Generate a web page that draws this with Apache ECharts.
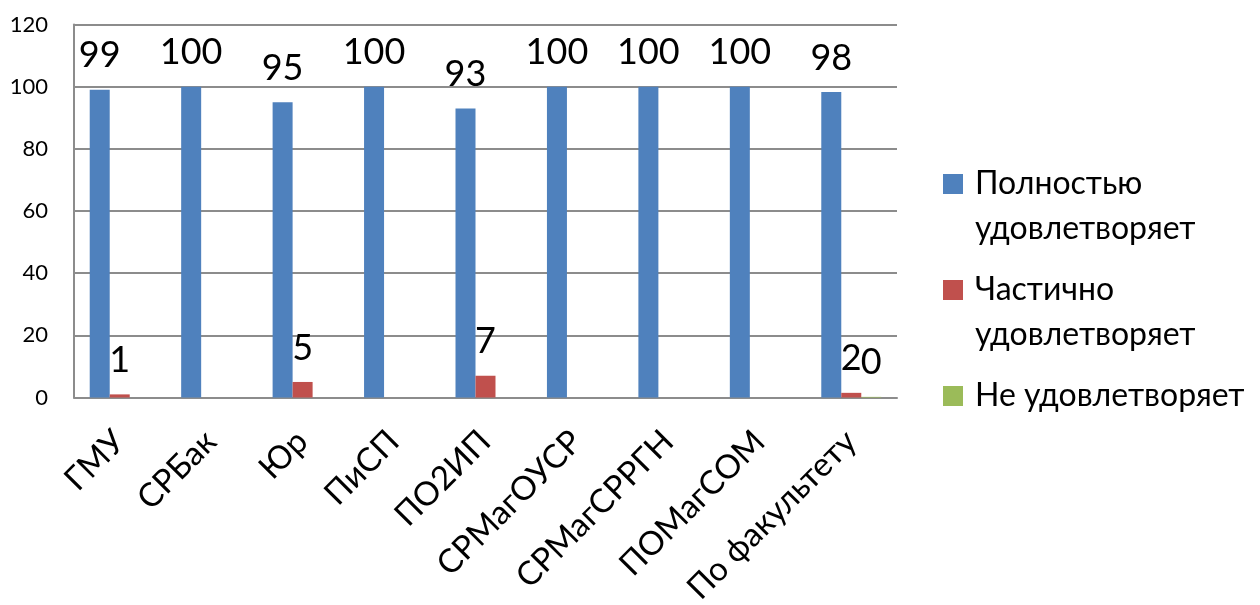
<!DOCTYPE html>
<html>
<head>
<meta charset="utf-8">
<script src="https://cdn.jsdelivr.net/npm/echarts@6/dist/echarts.min.js"></script>
<style>
html,body{margin:0;padding:0;background:#fff;}
#chart{width:1260px;height:605px;}
</style>
</head>
<body>
<div id="chart"></div>
<script>
const categories = ['ГМУ','СРБак','Юр','ПиСП','ПО2ИП','СРМагОУСР','СРМагСРРГН','ПОМагСОМ','По факультету'];
const fullySatisfied = [99, 100, 95, 100, 93, 100, 100, 100, 98.3];
const partlySatisfied = [1, null, 5, null, 7, null, null, null, 1.5];
const notSatisfied = [null, null, null, null, null, null, null, null, 0.2];
const seriesNames = ['Полностью удовлетворяет', 'Частично удовлетворяет', 'Не удовлетворяет'];
const legendTexts = ['Полностью\nудовлетворяет', 'Частично\nудовлетворяет', 'Не удовлетворяет'];
const yTicks = {min: 0, max: 120, interval: 20};

const FONT = 'Lato, "Open Sans", sans-serif';
const colors = ['#4F81BD', '#C0504D', '#9BBB59'];

const chart = echarts.init(document.getElementById('chart'), null, {renderer: 'canvas'});

function mkSeries(name, data, color) {
  return {
    name: name,
    type: 'bar',
    data: data,
    barWidth: 20,
    barGap: '0%',
    itemStyle: {color: color},
    label: {
      show: true,
      position: 'top',
      distance: 16,
      fontFamily: FONT,
      fontSize: 36,
      color: '#000',
      formatter: p => String(Math.round(p.value))
    },
    animation: false
  };
}

const LH = 45;
const twoLineIcon = 'path://M0,0L0.01,0L0.01,0.01Z M0,12.5L20,12.5L20,32.5L0,32.5Z M26.99,89.99L27,89.99L27,90Z';
const oneLineIcon = 'path://M0,0L0.01,0L0.01,0.01Z M0,12.5L20,12.5L20,32.5L0,32.5Z M26.99,44.99L27,44.99L27,45Z';
const legendTops = [161.5, 267.5, 373.5];
const legends = seriesNames.map((n, i) => ({
  data: [{name: n}],
  left: 943,
  top: legendTops[i],
  padding: 0,
  orient: 'vertical',
  itemWidth: 27,
  itemHeight: i < 2 ? 90 : 45,
  itemGap: 0,
  icon: i < 2 ? twoLineIcon : oneLineIcon,
  selectedMode: false,
  formatter: () => legendTexts[i],
  textStyle: {
    fontFamily: FONT,
    fontSize: 32,
    lineHeight: LH,
    color: '#000'
  }
}));

chart.setOption({
  animation: false,
  backgroundColor: '#fff',
  color: colors,
  grid: {left: 74, right: 363, top: 24.5, bottom: 207.5, containLabel: false, outerBoundsMode: 'none'},
  legend: legends,
  xAxis: {
    type: 'category',
    data: categories,
    axisLine: {show: true, lineStyle: {color: '#8c8c8c', width: 2}},
    axisTick: {show: false},
    axisLabel: {
      rotate: 45,
      interval: 0,
      margin: 15,
      verticalAlign: 'top',
      padding: [0, 17, 0, 0],
      fontFamily: FONT,
      fontSize: 33,
      color: '#000'
    }
  },
  yAxis: {
    type: 'value',
    min: yTicks.min,
    max: yTicks.max,
    interval: yTicks.interval,
    axisLine: {show: true, lineStyle: {color: '#8c8c8c', width: 2}},
    axisTick: {show: false},
    splitLine: {show: true, lineStyle: {color: '#8c8c8c', width: 2}},
    axisLabel: {
      margin: 26,
      fontFamily: FONT,
      fontSize: 22,
      color: '#000'
    }
  },
  series: [
    mkSeries(seriesNames[0], fullySatisfied, colors[0]),
    mkSeries(seriesNames[1], partlySatisfied, colors[1]),
    mkSeries(seriesNames[2], notSatisfied, colors[2])
  ]
});
</script>
</body>
</html>
